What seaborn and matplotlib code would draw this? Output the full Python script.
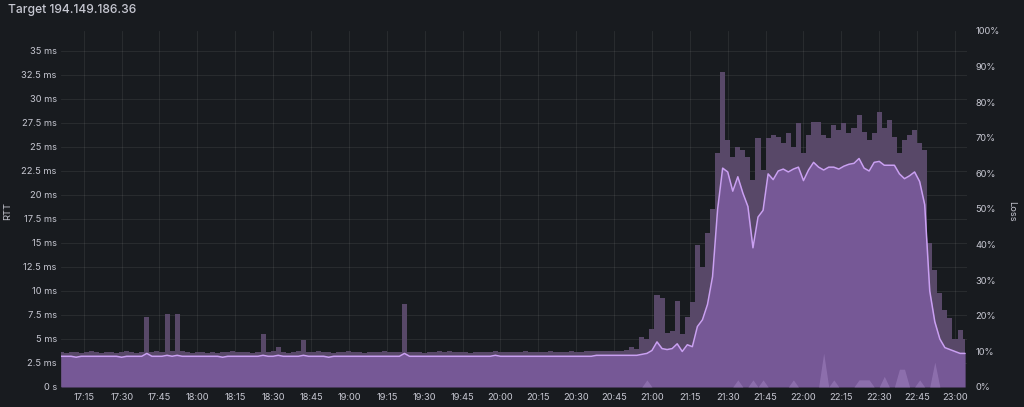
import pandas as pd
import matplotlib
matplotlib.use('Agg')
import matplotlib.pyplot as plt
import matplotlib.dates as mdates
from matplotlib.ticker import FuncFormatter, MultipleLocator
import seaborn as sns

title = 'Target 194.149.186.36'
start = '2024-05-01 17:06'
end = '2024-05-01 23:04:45'
step = '2min'

# median RTT (ms), one value every 2 minutes from 17:06
rtt_median = [
    3.2, 3.2, 3.2, 3.1, 3.2, 3.2, 3.2, 3.2, 3.2, 3.2,
    3.2, 3.2, 3.1, 3.2, 3.2, 3.2, 3.2, 3.5, 3.2, 3.2,
    3.2, 3.3, 3.2, 3.3, 3.2, 3.2, 3.2, 3.2, 3.2, 3.2,
    3.2, 3.2, 3.1, 3.2, 3.2, 3.2, 3.2, 3.2, 3.2, 3.2,
    3.3, 3.2, 3.2, 3.3, 3.2, 3.2, 3.2, 3.2, 3.3, 3.2,
    3.2, 3.2, 3.2, 3.1, 3.2, 3.2, 3.2, 3.2, 3.2, 3.2,
    3.2, 3.2, 3.2, 3.2, 3.2, 3.2, 3.2, 3.2, 3.5, 3.2,
    3.2, 3.2, 3.2, 3.2, 3.2, 3.2, 3.2, 3.2, 3.2, 3.2,
    3.2, 3.2, 3.2, 3.2, 3.2, 3.2, 3.3, 3.2, 3.2, 3.2,
    3.2, 3.2, 3.2, 3.2, 3.2, 3.2, 3.2, 3.2, 3.2, 3.2,
    3.2, 3.2, 3.2, 3.2, 3.2, 3.2, 3.3, 3.3, 3.3, 3.3,
    3.3, 3.3, 3.3, 3.3, 3.3, 3.4, 3.5, 3.8, 4.7, 4.0,
    3.9, 4.0, 4.5, 3.7, 4.4, 4.2, 6.3, 7.0, 8.6, 11.5,
    18.5, 22.8, 22.4, 20.4, 21.9, 20.2, 18.8, 14.5, 17.7, 18.4,
    22.2, 21.6, 22.5, 22.7, 22.4, 22.7, 22.9, 21.5, 22.6, 23.4,
    22.9, 22.6, 22.9, 22.9, 22.7, 23.0, 23.2, 23.3, 23.8, 22.8,
    22.5, 23.4, 23.5, 23.1, 23.1, 23.1, 22.2, 21.7, 22.0, 22.4,
    21.4, 19.0, 10.0, 6.8, 5.0, 4.1, 3.9, 3.7, 3.5, 3.5,
]

# max RTT (ms)
rtt_max = [
    3.6, 3.5, 3.6, 3.6, 3.5, 3.6, 3.7, 3.6, 3.5, 3.6,
    3.6, 3.5, 3.6, 3.7, 3.6, 3.5, 3.6, 7.3, 3.6, 3.7,
    3.6, 7.6, 3.7, 7.6, 3.8, 3.6, 3.5, 3.6, 3.6, 3.5,
    3.6, 3.5, 3.6, 3.6, 3.7, 3.6, 3.6, 3.6, 3.5, 3.6,
    5.5, 3.6, 3.7, 4.2, 3.6, 3.5, 3.6, 3.7, 4.9, 3.6,
    3.6, 3.7, 3.6, 3.6, 3.5, 3.6, 3.6, 3.7, 3.6, 3.6,
    3.5, 3.6, 3.6, 3.6, 3.7, 3.6, 3.6, 3.6, 8.6, 3.6,
    3.6, 3.6, 3.5, 3.6, 3.6, 3.7, 3.6, 3.8, 3.6, 3.6,
    3.6, 3.5, 3.6, 3.6, 3.6, 3.6, 3.7, 3.6, 3.6, 3.6,
    3.6, 3.6, 3.7, 3.6, 3.6, 3.6, 3.6, 3.7, 3.6, 3.6,
    3.6, 3.7, 3.6, 3.6, 3.7, 3.8, 3.7, 3.8, 3.7, 3.7,
    3.7, 3.8, 3.9, 4.2, 4.0, 5.2, 5.0, 6.0, 9.6, 9.3,
    5.6, 5.8, 9.0, 5.5, 7.3, 8.9, 14.8, 12.5, 16.0, 18.5,
    24.4, 32.8, 25.7, 24.0, 25.0, 24.7, 24.0, 21.6, 25.9, 22.6,
    25.9, 26.2, 26.0, 25.4, 26.5, 25.0, 27.5, 24.4, 26.2, 27.6,
    27.6, 26.2, 25.9, 27.3, 26.8, 27.5, 26.5, 27.0, 28.3, 26.6,
    25.7, 26.5, 28.6, 27.0, 27.8, 26.0, 24.4, 25.7, 26.3, 26.8,
    25.4, 24.7, 15.0, 12.2, 9.8, 8.0, 7.2, 5.0, 5.9, 5.0,
]

# packet loss (%)
loss = [
    0, 0, 0, 0, 0, 0, 0, 0, 0, 0,
    0, 0, 0, 0, 0, 0, 0, 0, 0, 0,
    0, 0, 0, 0, 0, 0, 0, 0, 0, 0,
    0, 0, 0, 0, 0, 0, 0, 0, 0, 0,
    0, 0, 0, 0, 0, 0, 0, 0, 0, 0,
    0, 0, 0, 0, 0, 0, 0, 0, 0, 0,
    0, 0, 0, 0, 0, 0, 0, 0, 0, 0,
    0, 0, 0, 0, 0, 0, 0, 0, 0, 0,
    0, 0, 0, 0, 0, 0, 0, 0, 0, 0,
    0, 0, 0, 0, 0, 0, 0, 0, 0, 0,
    0, 0, 0, 0, 0, 0, 0, 0, 0, 0,
    0, 0, 0, 0, 0, 0, 2, 0, 0, 0,
    0, 0, 0, 0, 0, 0, 0, 0, 0, 0,
    0, 0, 0, 0, 2, 0, 0, 2, 0, 2,
    0, 0, 0, 0, 0, 2, 0, 0, 0, 0,
    0, 9.5, 0, 2, 0, 0, 0, 0, 2, 2,
    2, 0, 0, 3, 0, 0, 5, 5, 0, 0,
    2, 0, 0, 7, 0, 0, 0, 0, 0, 0,
]

times = pd.date_range(start, periods=len(rtt_median), freq=step)
df = pd.DataFrame({'time': times, 'median': rtt_median, 'max': rtt_max, 'loss': loss})

bg = '#181b1f'
txt = '#c7c8d2'
sns.set_theme(style='dark', rc={'axes.facecolor': bg, 'figure.facecolor': bg})
plt.rcParams['font.family'] = ['Inter', 'DejaVu Sans']

fig = plt.figure(figsize=(10.24, 4.07), dpi=100)
ax = fig.add_axes([61/1024, 20/407, 906/1024, 356/407])

ax.fill_between(df['time'], df['max'], step='mid', color='#584868', lw=0)
ax.fill_between(df['time'], df['median'], color='#765896', lw=0)
sns.lineplot(data=df, x='time', y='median', ax=ax, color='#caa0f2', lw=1.1)

ax.set_xlim(pd.Timestamp(start), pd.Timestamp(end))
ax.set_ylim(0, 356/9.6)
ax.yaxis.set_major_locator(MultipleLocator(2.5))
ax.yaxis.set_major_formatter(FuncFormatter(lambda v, p: '0 s' if v == 0 else f'{v:g} ms'))
ax.xaxis.set_major_locator(mdates.MinuteLocator(byminute=[0, 15, 30, 45]))
ax.xaxis.set_major_formatter(mdates.DateFormatter('%H:%M'))
ax.grid(True, color='white', alpha=0.07, lw=0.8)
ax.tick_params(axis='both', colors=txt, labelsize=6.7, length=0)
ax.tick_params(axis='y', pad=3)
ax.tick_params(axis='x', pad=4)
ax.set_xlabel('')
ax.set_ylabel('')
for s in ax.spines.values():
    s.set_visible(False)

ax2 = ax.twinx()
ax2.fill_between(df['time'], df['loss'], color='#a98bc9', alpha=0.45, lw=0)
ax2.set_ylim(0, 100)
ax2.yaxis.set_major_locator(MultipleLocator(10))
ax2.yaxis.set_major_formatter(FuncFormatter(lambda v, p: f'{v:.0f}%'))
ax2.grid(False)
ax2.tick_params(axis='y', colors=txt, labelsize=6.7, length=0, pad=6)
for s in ax2.spines.values():
    s.set_visible(False)

fig.text(8/1024, 1 - 10/407, title, color=txt, fontsize=8.7, fontweight='medium', va='center', ha='left')
fig.text(8/1024, 1 - 211/407, 'RTT', color=txt, fontsize=6.7, rotation=90, va='center', ha='center')
fig.text(1012/1024, 1 - 211/407, 'Loss', color=txt, fontsize=6.7, rotation=270, va='center', ha='center')

fig.savefig('out.png', dpi=100, facecolor=bg)
